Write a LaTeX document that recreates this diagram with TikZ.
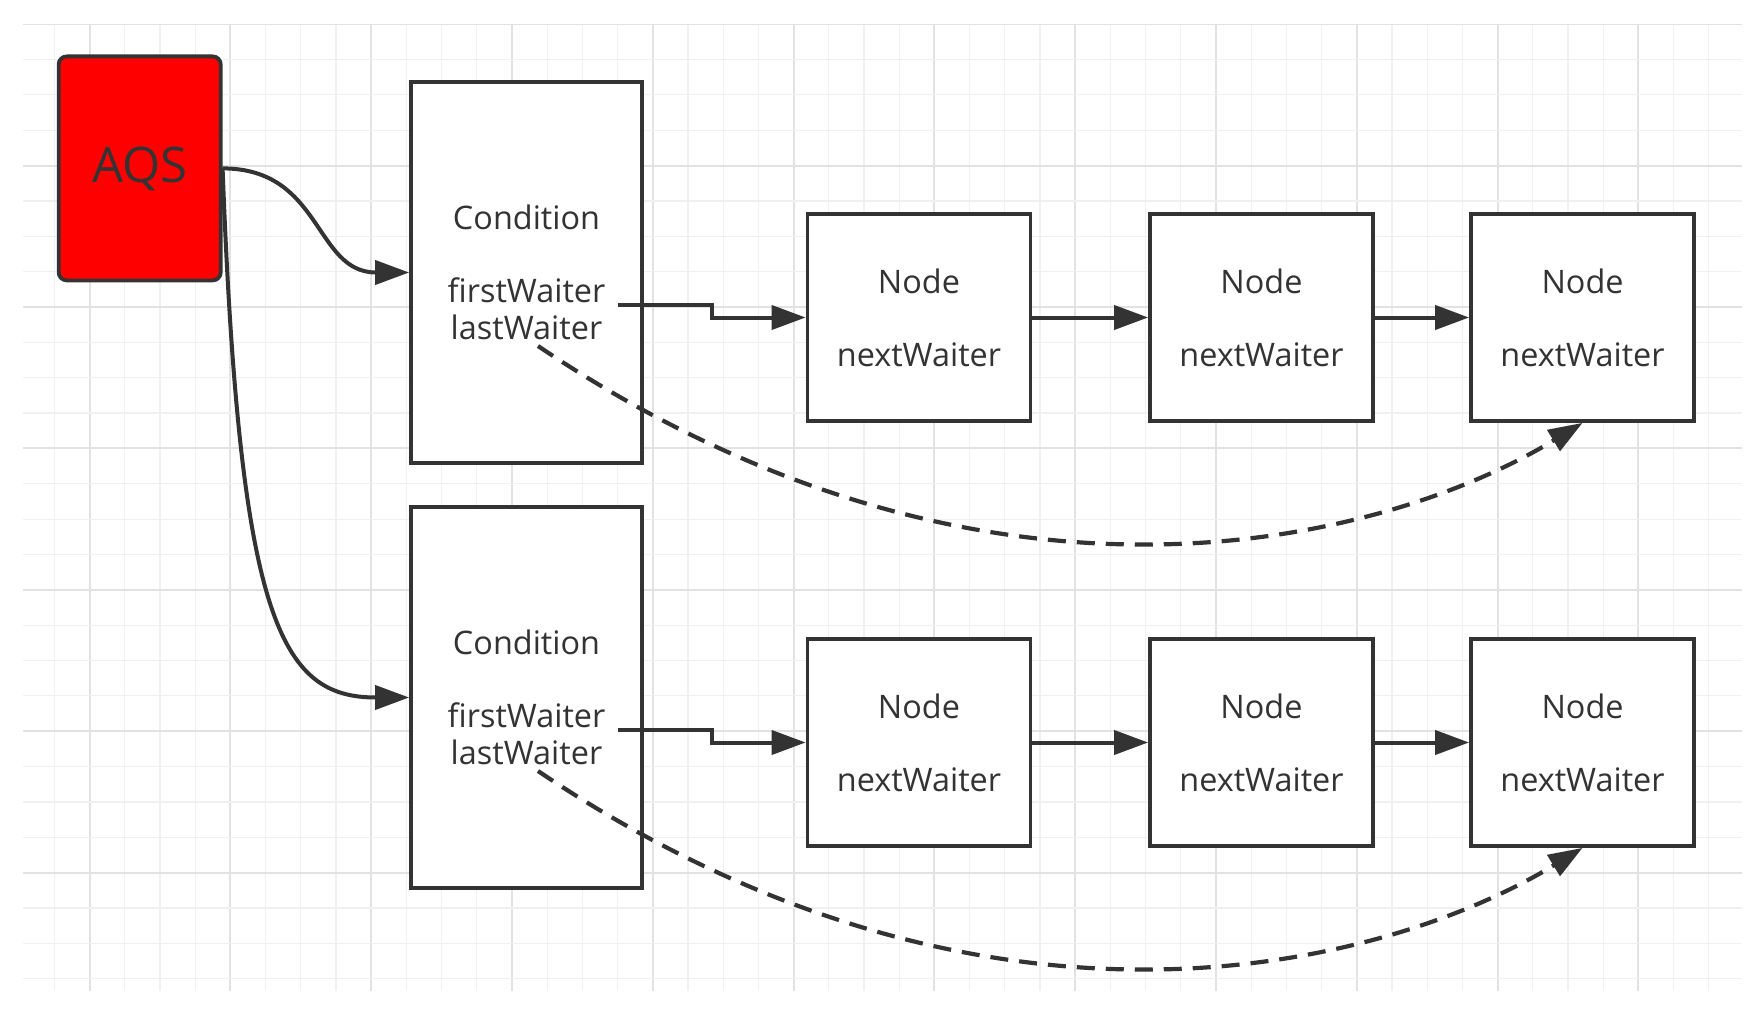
\documentclass[tikz,border=0pt]{standalone}
\usepackage{fontspec}
\setmainfont{Open Sans}
\usetikzlibrary{arrows.meta,calc}
\definecolor{ink}{HTML}{333333}
\definecolor{gridminor}{HTML}{F0F0F0}
\definecolor{gridmajor}{HTML}{E2E2E2}
\definecolor{aqsred}{HTML}{FF0000}
\begin{document}
\begin{tikzpicture}[x=0.5pt,y=-0.5pt,
  box/.style={draw=ink, line width=1.9pt, fill=white, inner sep=0pt, align=center,
    font=\fontsize{16.2}{18.5}\selectfont, text=ink},
  condbox/.style={box, minimum width=115.5pt, minimum height=190.5pt},
  nodebox/.style={box, minimum width=111.5pt, minimum height=103.5pt},
  aqsbox/.style={draw=ink, line width=1.9pt, fill=aqsred, rounded corners=4pt,
    minimum width=81pt, minimum height=112pt, inner sep=0pt,
    font=\fontsize{24.5}{28}\selectfont, text=ink},
  link/.style={draw=ink, line width=2pt, -{Triangle[length=17pt,width=12pt]}},
  dlink/.style={link, line width=2.1pt, dash pattern=on 9pt off 5.5pt}
]
\useasboundingbox[fill=white] (0,0) rectangle (1757,1011);
% grid
\begin{scope}
\clip (23,25) rectangle (1742,991);
\foreach \i in {-2,...,47}{
  \pgfmathsetmacro{\xx}{89.6+35.2*\i}
  \pgfmathtruncatemacro{\mm}{mod(\i+40,4)}
  \ifnum\mm=0
    \draw[gridmajor, line width=1pt] (\xx,25) -- (\xx,991);
  \else
    \draw[gridminor, line width=0.6pt] (\xx,25) -- (\xx,991);
  \fi
}
\foreach \j in {0,...,27}{
  \pgfmathsetmacro{\yy}{24.2+35.35*\j}
  \pgfmathtruncatemacro{\mm}{mod(\j,4)}
  \ifnum\mm=0
    \draw[gridmajor, line width=1pt] (23,\yy) -- (1742,\yy);
  \else
    \draw[gridminor, line width=0.6pt] (23,\yy) -- (1742,\yy);
  \fi
}
\end{scope}
% nodes
\node[aqsbox] (aqs) at (139.7,168.4) {AQS};
\node[condbox] (c1) at (526.5,272.5) {Condition\\[18pt]firstWaiter\\lastWaiter};
\node[condbox] (c2) at (526.5,697.5) {Condition\\[18pt]firstWaiter\\lastWaiter};
\node[nodebox] (n11) at (919,317.5) {Node\\[18pt]nextWaiter};
\node[nodebox] (n12) at (1261.5,317.5) {Node\\[18pt]nextWaiter};
\node[nodebox] (n13) at (1582.5,317.5) {Node\\[18pt]nextWaiter};
\node[nodebox] (n21) at (919,742.5) {Node\\[18pt]nextWaiter};
\node[nodebox] (n22) at (1261.5,742.5) {Node\\[18pt]nextWaiter};
\node[nodebox] (n23) at (1582.5,742.5) {Node\\[18pt]nextWaiter};
\coordinate (fw1) at (618,305);
\coordinate (lw1) at (538,346);
\coordinate (fw2) at (618,730);
\coordinate (lw2) at (538,771);
% connectors
\draw[link] (aqs.east) .. controls +(100,0) and +(-95,0) .. (c1.west);
\draw[link] (aqs.east) .. controls +(17,452) and +(-129,0) .. (c2.west);
\draw[link] (fw1) -- ++(94,0) |- (n11.west);
\draw[link] (n11.east) -- (n12.west);
\draw[link] (n12.east) -- (n13.west);
\draw[link] (fw2) -- ++(94,0) |- (n21.west);
\draw[link] (n21.east) -- (n22.west);
\draw[link] (n22.east) -- (n23.west);
\draw[dlink] (lw1) .. controls (990,650) and (1390,540) .. (n13.south);
\draw[dlink] (lw2) .. controls (990,1075) and (1390,965) .. (n23.south);
\end{tikzpicture}
\end{document}
